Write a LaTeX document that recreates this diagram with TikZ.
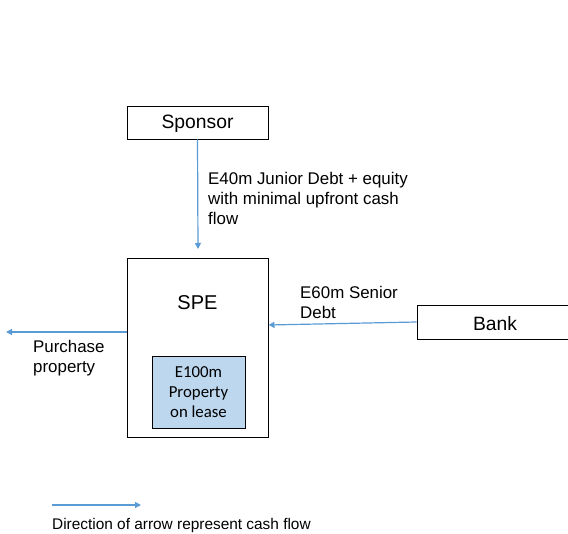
\documentclass[tikz,border=0pt]{standalone}
\usepackage{fontspec}
\setmainfont{Liberation Sans}
\newfontfamily\calfont{Carlito}
\usetikzlibrary{arrows.meta}
\definecolor{flowblue}{HTML}{5B9BD5}
\definecolor{propfill}{HTML}{BDD7EE}
\begin{document}
\begin{tikzpicture}[x=1pt,y=-1pt,
  party/.style={draw=black,line width=0.9pt,inner sep=0pt,minimum height=33pt},
  flow/.style={draw=flowblue,line width=1.2pt,-{Triangle[length=6pt,width=6pt]}},
  lbl/.style={inner sep=0pt,align=left,font=\fontsize{16.9}{20}\selectfont}]
\useasboundingbox (0,0) rectangle (568,534);
\clip (0,0) rectangle (568,534);
\node[party,minimum width=141pt] (sponsor) at (197.5,122.5) {};
\node[inner sep=0pt,font=\fontsize{19.3}{22}\selectfont] (sptxt) at (197.5,124) {Sponsor};
\node[party,minimum width=141pt,minimum height=179pt] (spe) at (197.5,347.5) {};
\node[inner sep=0pt,font=\fontsize{20}{22}\selectfont] (spetxt) at (197.5,303) {SPE};
\node[draw=black,line width=0.9pt,fill=propfill,minimum width=93pt,minimum height=72pt,inner sep=0pt,align=center,font=\calfont\fontsize{16.8}{20}\selectfont] (prop) at (198.5,392) {E100m\\Property\\on lease};
\node[party,minimum width=170pt,minimum height=34pt] (bank) at (502,322) {};
\node[inner sep=0pt,font=\fontsize{19.3}{22}\selectfont] (banktxt) at (495,323.5) {Bank};
\coordinate (speT) at (198,249);
\coordinate (speR) at (268.5,325);
\coordinate (buy) at (6,332);
\coordinate (spL) at (127,332);
\coordinate (legA) at (52,505);
\coordinate (legB) at (141,505);
\draw[flow] (sponsor.south) -- (speT);
\draw[flow] (bank.west) -- (speR);
\draw[flow] (spL) -- (buy);
\draw[flow] (legA) -- (legB);
\node[lbl,anchor=west] (l1) at (208,198) {E40m Junior Debt + equity\\with minimal upfront cash\\flow};
\node[lbl,anchor=west] (l2) at (300,302) {E60m Senior\\Debt};
\node[lbl,anchor=west] (l3) at (33,358) {Purchase\\property};
\node[inner sep=0pt,anchor=west,font=\fontsize{15.4}{18}\selectfont] (leg) at (52,526) {Direction of arrow represent cash flow};
\end{tikzpicture}
\end{document}
